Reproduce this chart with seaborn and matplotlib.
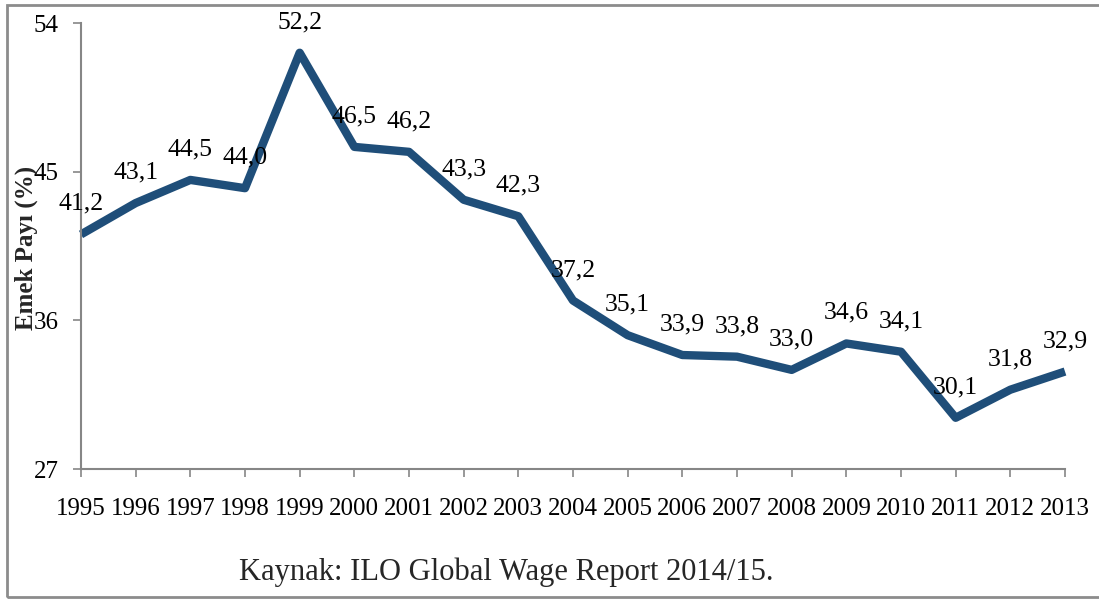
import pandas as pd
import seaborn as sns
import matplotlib.pyplot as plt
from matplotlib.patches import Rectangle

# Labour share in Turkey, 1995-2013
years = list(range(1995, 2014))
emek_payi = [41.2, 43.1, 44.5, 44.0, 52.2, 46.5, 46.2, 43.3, 42.3, 37.2,
             35.1, 33.9, 33.8, 33.0, 34.6, 34.1, 30.1, 31.8, 32.9]
y_ticks = [27, 36, 45, 54]

data = pd.DataFrame({'Yil': years, 'Emek': emek_payi})

sns.set_style('white')
plt.rcParams['font.family'] = ['Liberation Serif', 'DejaVu Serif']

fig = plt.figure(figsize=(10.99, 5.99), dpi=100)
ax = fig.add_axes([81 / 1099, 1 - 469 / 599, (1065 - 81) / 1099, (469 - 23) / 599])

sns.lineplot(x='Yil', y='Emek', data=data, ax=ax, color='#1F4E79',
             linewidth=6, clip_on=False)
ax.lines[0].set_solid_capstyle('butt')

# value labels, Turkish decimal comma
for x, y in zip(years, emek_payi):
    ax.annotate(f'{y:.1f}'.replace('.', ','), (x, y), xytext=(0, 22),
                textcoords='offset points', ha='center', va='center',
                fontsize=18.5, color='black')

ax.set_xlim(1995, 2013)
ax.set_ylim(27, 54)
ax.set_xticks(years)
ax.set_xticklabels([str(y) for y in years])
ax.set_yticks(y_ticks)
ax.tick_params(axis='both', direction='out', length=6, width=1.2,
               color='#868686', labelsize=18, labelcolor='black',
               bottom=True, left=True)
ax.tick_params(axis='x', pad=15)
ax.tick_params(axis='y', pad=10)
for side in ['top', 'right']:
    ax.spines[side].set_visible(False)
for side in ['left', 'bottom']:
    ax.spines[side].set_color('#868686')
    ax.spines[side].set_linewidth(1.5)
ax.set_xlabel('')
ax.set_ylabel('')

fig.text(26 / 1099, 1 - 248 / 599, 'Emek Payı (%)', rotation=90,
         ha='center', va='center', fontsize=18, fontweight='bold')
fig.text(506 / 1099, 1 - 572 / 599, 'Kaynak: ILO Global Wage Report 2014/15.',
         ha='center', va='center', fontsize=22)

# outer frame
fig.patches.append(Rectangle((7 / 1099, 2 / 599), 1.2, 1 - 7 / 599,
                             transform=fig.transFigure, fill=False,
                             edgecolor='#8c8c8c', linewidth=2))

fig.savefig('out.png', dpi=100)
plt.close('all')
